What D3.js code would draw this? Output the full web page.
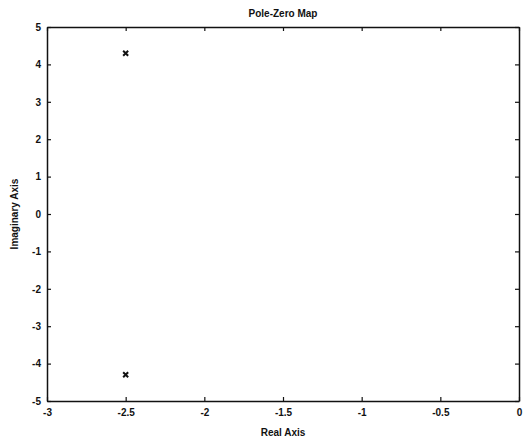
<!DOCTYPE html>
<html>
<head>
<meta charset="utf-8">
<script src="https://cdn.jsdelivr.net/npm/d3@7.9.0/dist/d3.min.js"></script>
<style>
  body { margin: 0; background: #fff; }
  svg text { font-family: "Liberation Sans", Arial, sans-serif; fill: #111; }
</style>
</head>
<body>
<svg id="chart" width="524" height="443"></svg>
<script>
// pole locations
const poleReal = [-2.5, -2.5];
const poleImag = [4.3, -4.3];

const xTicks = [-3, -2.5, -2, -1.5, -1, -0.5, 0];
const yTicks = [5, 4, 3, 2, 1, 0, -1, -2, -3, -4, -5];

const margin = { top: 27, right: 5, bottom: 42, left: 47 };
const width = 524, height = 443;

const svg = d3.select('#chart');

const x = d3.scaleLinear()
  .domain([-3, 0])
  .range([margin.left, width - margin.right]);
const y = d3.scaleLinear()
  .domain([-5, 5])
  .range([height - margin.bottom, margin.top]);

// plain labels, hyphen minus like matlab
const fmt = d => String(d);

// axes, ticks pointing inwards like matlab
const tickLen = 4;
svg.append('g')
  .attr('transform', `translate(0,${y(-5)})`)
  .call(d3.axisBottom(x).tickValues(xTicks).tickSizeInner(-tickLen).tickSizeOuter(0).tickPadding(8).tickFormat(fmt))
  .call(g => g.selectAll('text').attr('font-size', 10).attr('font-weight', 'bold'));
svg.append('g')
  .attr('transform', `translate(0,${y(5)})`)
  .call(d3.axisTop(x).tickValues(xTicks).tickSizeInner(-tickLen).tickSizeOuter(0).tickFormat(''));
svg.append('g')
  .attr('transform', `translate(${x(-3)},0)`)
  .call(d3.axisLeft(y).tickValues(yTicks).tickSizeInner(-tickLen).tickSizeOuter(0).tickPadding(6).tickFormat(fmt))
  .call(g => g.selectAll('text').attr('font-size', 10).attr('font-weight', 'bold'));
svg.append('g')
  .attr('transform', `translate(${x(0)},0)`)
  .call(d3.axisRight(y).tickValues(yTicks).tickSizeInner(-tickLen).tickSizeOuter(0).tickFormat(''));

svg.selectAll('.domain').attr('stroke', '#111').attr('stroke-width', 1.5);
svg.selectAll('.tick line').attr('stroke', '#111').attr('stroke-width', 1.2);

// poles drawn as x
const s = 2.5;
svg.selectAll('path.pole')
  .data(d3.zip(poleReal, poleImag))
  .join('path')
  .attr('class', 'pole')
  .attr('d', d => {
    const cx = x(d[0]), cy = y(d[1]);
    return `M${cx - s},${cy - s}L${cx + s},${cy + s}M${cx - s},${cy + s}L${cx + s},${cy - s}`;
  })
  .attr('stroke', '#111')
  .attr('stroke-width', 2);

// titles
svg.append('text')
  .attr('x', (x(-3) + x(0)) / 2)
  .attr('y', 17)
  .attr('text-anchor', 'middle')
  .attr('font-size', 10)
  .attr('font-weight', 'bold')
  .text('Pole-Zero Map');

svg.append('text')
  .attr('x', (x(-3) + x(0)) / 2)
  .attr('y', 436)
  .attr('text-anchor', 'middle')
  .attr('font-size', 10)
  .attr('font-weight', 'bold')
  .text('Real Axis');

svg.append('text')
  .attr('transform', `translate(18,${(y(5) + y(-5)) / 2}) rotate(-90)`)
  .attr('text-anchor', 'middle')
  .attr('font-size', 10)
  .attr('font-weight', 'bold')
  .text('Imaginary Axis');
</script>
</body>
</html>
